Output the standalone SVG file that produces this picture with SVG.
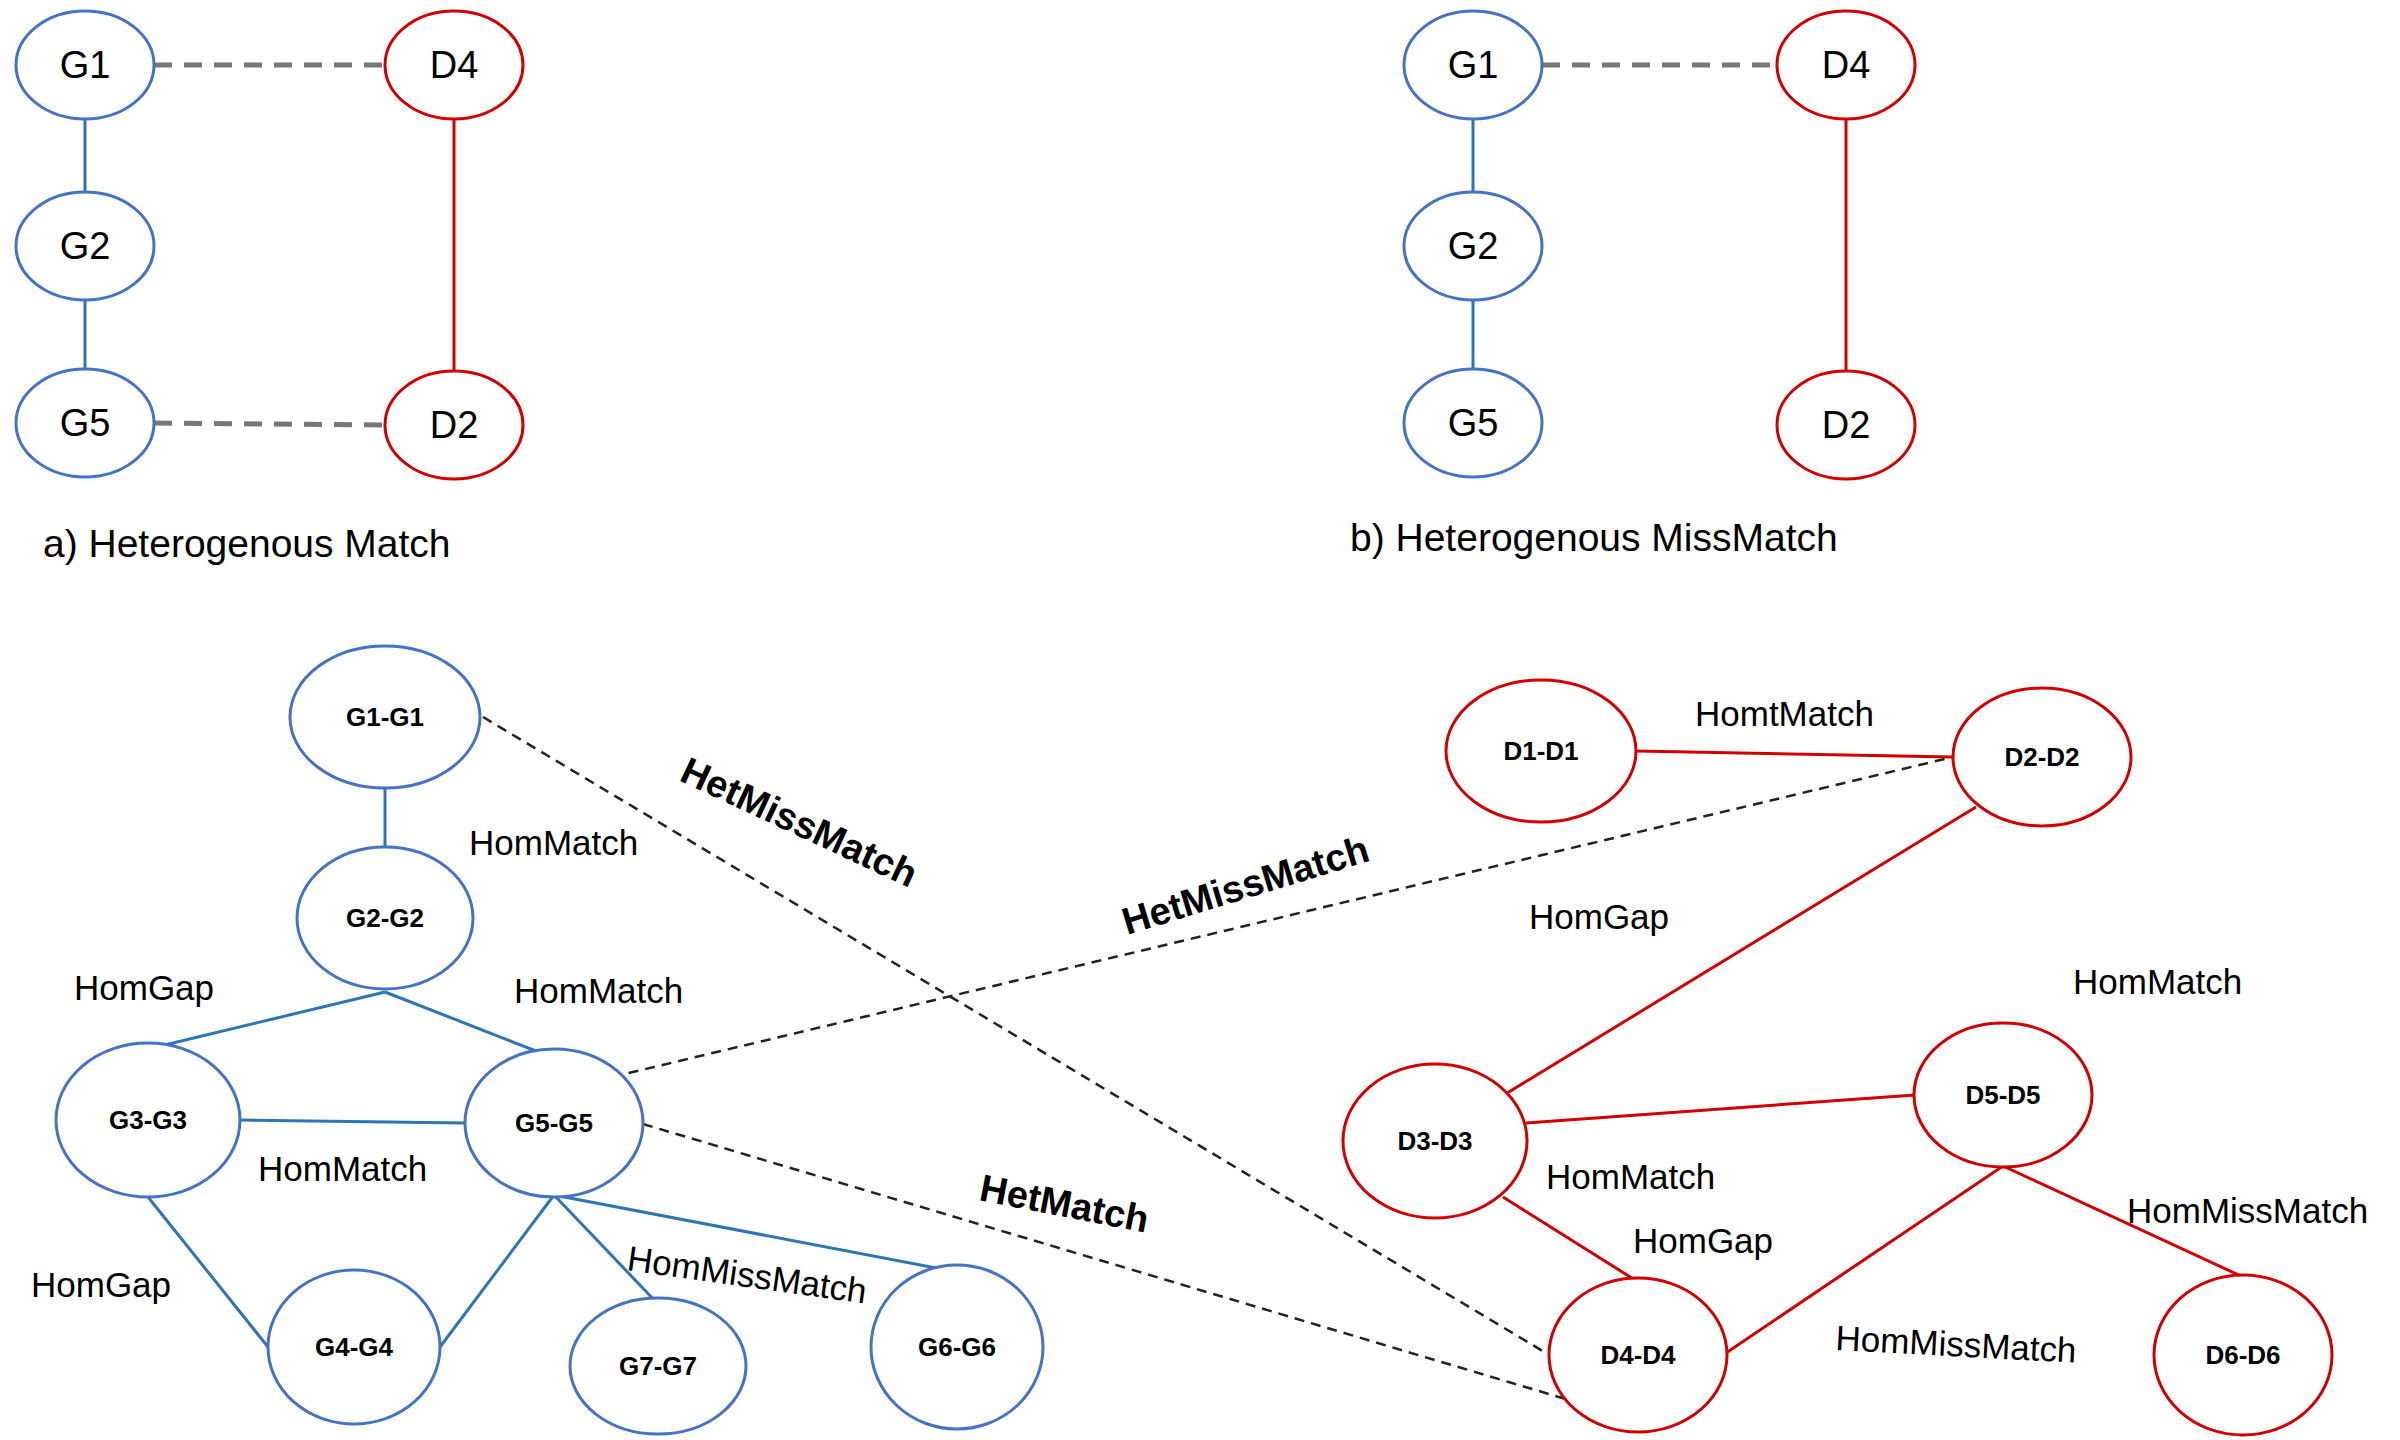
<svg xmlns="http://www.w3.org/2000/svg" width="2400" height="1440" viewBox="0 0 2400 1440">
<style>
.b{fill:#fff;stroke:#4472c4;stroke-width:3}
.r{fill:#fff;stroke:#d00000;stroke-width:3}
.n{font-family:"Liberation Sans",Arial,sans-serif;font-size:38px;text-anchor:middle;dominant-baseline:central}
.m{font-family:"Liberation Sans",Arial,sans-serif;font-size:26px;font-weight:bold;text-anchor:middle;dominant-baseline:central}
.l{font-family:"Liberation Sans",Arial,sans-serif;font-size:35px}
.h{font-family:"Liberation Sans",Arial,sans-serif;font-size:38px;font-weight:bold}
.c{font-family:"Liberation Sans",Arial,sans-serif;font-size:39px}
.eb{stroke:#2e75b6;stroke-width:3;fill:none}
.er{stroke:#d00000;stroke-width:3;fill:none}
.dg{stroke:#777;stroke-width:5;stroke-dasharray:18 12;fill:none}
.dk{stroke:#222;stroke-width:2.5;stroke-dasharray:10 7;fill:none}
</style>
<g id="connectors">
<line class="dg" x1="154" y1="65" x2="385" y2="65"/>
<line class="dg" x1="154" y1="423" x2="385" y2="425"/>
<line class="eb" x1="85" y1="119" x2="85" y2="192"/>
<line class="eb" x1="85" y1="300" x2="85" y2="369"/>
<line class="er" x1="454" y1="119" x2="454" y2="371"/>
<line class="dg" x1="1542" y1="65" x2="1777" y2="65"/>
<line class="eb" x1="1473" y1="119" x2="1473" y2="192"/>
<line class="eb" x1="1473" y1="300" x2="1473" y2="369"/>
<line class="er" x1="1846" y1="119" x2="1846" y2="371"/>
<line class="eb" x1="385" y1="788" x2="385" y2="847"/>
<line class="eb" x1="385" y1="992" x2="148" y2="1049"/>
<line class="eb" x1="385" y1="992" x2="554" y2="1058"/>
<line class="eb" x1="241" y1="1120" x2="464" y2="1123"/>
<line class="eb" x1="148" y1="1197" x2="268" y2="1347"/>
<line class="eb" x1="554" y1="1195" x2="440" y2="1347"/>
<line class="eb" x1="554" y1="1195" x2="658" y2="1304"/>
<line class="eb" x1="554" y1="1195" x2="957" y2="1272"/>
<line class="dk" x1="483" y1="717" x2="1546" y2="1353"/>
<line class="dk" x1="612" y1="1077" x2="1953" y2="757"/>
<line class="dk" x1="643" y1="1124" x2="1569" y2="1400"/>
<line class="er" x1="1636" y1="751" x2="1953" y2="757"/>
<line class="er" x1="1976" y1="807" x2="1504" y2="1095"/>
<line class="er" x1="1526" y1="1123" x2="1915" y2="1095"/>
<line class="er" x1="1503" y1="1197" x2="1635" y2="1280"/>
<line class="er" x1="2003" y1="1166" x2="1726" y2="1353"/>
<line class="er" x1="2003" y1="1166" x2="2243" y2="1277"/>
</g>
<g id="a_G1"><ellipse class="b" cx="85" cy="65" rx="69" ry="54"/><text class="n" x="85" y="65">G1</text></g>
<g id="a_G2"><ellipse class="b" cx="85" cy="246" rx="69" ry="54"/><text class="n" x="85" y="246">G2</text></g>
<g id="a_G5"><ellipse class="b" cx="85" cy="423" rx="69" ry="54"/><text class="n" x="85" y="423">G5</text></g>
<g id="a_D4"><ellipse class="r" cx="454" cy="65" rx="69" ry="54"/><text class="n" x="454" y="65">D4</text></g>
<g id="a_D2"><ellipse class="r" cx="454" cy="425" rx="69" ry="54"/><text class="n" x="454" y="425">D2</text></g>
<text class="c" x="43" y="557">a) Heterogenous Match</text>
<g id="b_G1"><ellipse class="b" cx="1473" cy="65" rx="69" ry="54"/><text class="n" x="1473" y="65">G1</text></g>
<g id="b_G2"><ellipse class="b" cx="1473" cy="246" rx="69" ry="54"/><text class="n" x="1473" y="246">G2</text></g>
<g id="b_G5"><ellipse class="b" cx="1473" cy="423" rx="69" ry="54"/><text class="n" x="1473" y="423">G5</text></g>
<g id="b_D4"><ellipse class="r" cx="1846" cy="65" rx="69" ry="54"/><text class="n" x="1846" y="65">D4</text></g>
<g id="b_D2"><ellipse class="r" cx="1846" cy="425" rx="69" ry="54"/><text class="n" x="1846" y="425">D2</text></g>
<text class="c" x="1350" y="551">b) Heterogenous MissMatch</text>
<g id="G1-G1"><ellipse class="b" cx="385" cy="717" rx="95" ry="71"/><text class="m" x="385" y="717">G1-G1</text></g>
<g id="G2-G2"><ellipse class="b" cx="385" cy="918" rx="88" ry="71"/><text class="m" x="385" y="918">G2-G2</text></g>
<g id="G3-G3"><ellipse class="b" cx="148" cy="1120" rx="92" ry="77"/><text class="m" x="148" y="1120">G3-G3</text></g>
<g id="G5-G5"><ellipse class="b" cx="554" cy="1123" rx="89" ry="74"/><text class="m" x="554" y="1123">G5-G5</text></g>
<g id="G4-G4"><ellipse class="b" cx="354" cy="1347" rx="86" ry="77"/><text class="m" x="354" y="1347">G4-G4</text></g>
<g id="G7-G7"><ellipse class="b" cx="658" cy="1366" rx="88" ry="68"/><text class="m" x="658" y="1366">G7-G7</text></g>
<g id="G6-G6"><ellipse class="b" cx="957" cy="1347" rx="86" ry="82"/><text class="m" x="957" y="1347">G6-G6</text></g>
<g id="D1-D1"><ellipse class="r" cx="1541" cy="751" rx="95" ry="71"/><text class="m" x="1541" y="751">D1-D1</text></g>
<g id="D2-D2"><ellipse class="r" cx="2042" cy="757" rx="89" ry="69"/><text class="m" x="2042" y="757">D2-D2</text></g>
<g id="D3-D3"><ellipse class="r" cx="1435" cy="1141" rx="92" ry="77"/><text class="m" x="1435" y="1141">D3-D3</text></g>
<g id="D5-D5"><ellipse class="r" cx="2003" cy="1095" rx="89" ry="72"/><text class="m" x="2003" y="1095">D5-D5</text></g>
<g id="D4-D4"><ellipse class="r" cx="1638" cy="1355" rx="89" ry="77"/><text class="m" x="1638" y="1355">D4-D4</text></g>
<g id="D6-D6"><ellipse class="r" cx="2243" cy="1355" rx="89" ry="80"/><text class="m" x="2243" y="1355">D6-D6</text></g>
<g id="labels">
<text class="l" x="469" y="855">HomMatch</text>
<text class="l" x="74" y="1000">HomGap</text>
<text class="l" x="514" y="1003">HomMatch</text>
<text class="l" x="258" y="1181">HomMatch</text>
<text class="l" x="31" y="1297">HomGap</text>
<text class="l" transform="translate(626,1270) rotate(8)">HomMissMatch</text>
<text class="h" transform="translate(678,780) rotate(25)">HetMissMatch</text>
<text class="h" transform="translate(1127,935) rotate(-17)">HetMissMatch</text>
<text class="h" transform="translate(978,1200) rotate(11)">HetMatch</text>
<text class="l" x="1695" y="726">HomtMatch</text>
<text class="l" x="1529" y="929">HomGap</text>
<text class="l" x="2073" y="994">HomMatch</text>
<text class="l" x="1546" y="1189">HomMatch</text>
<text class="l" x="1633" y="1253">HomGap</text>
<text class="l" x="2127" y="1223">HomMissMatch</text>
<text class="l" transform="translate(1835,1350) rotate(3)">HomMissMatch</text>
</g>
</svg>
